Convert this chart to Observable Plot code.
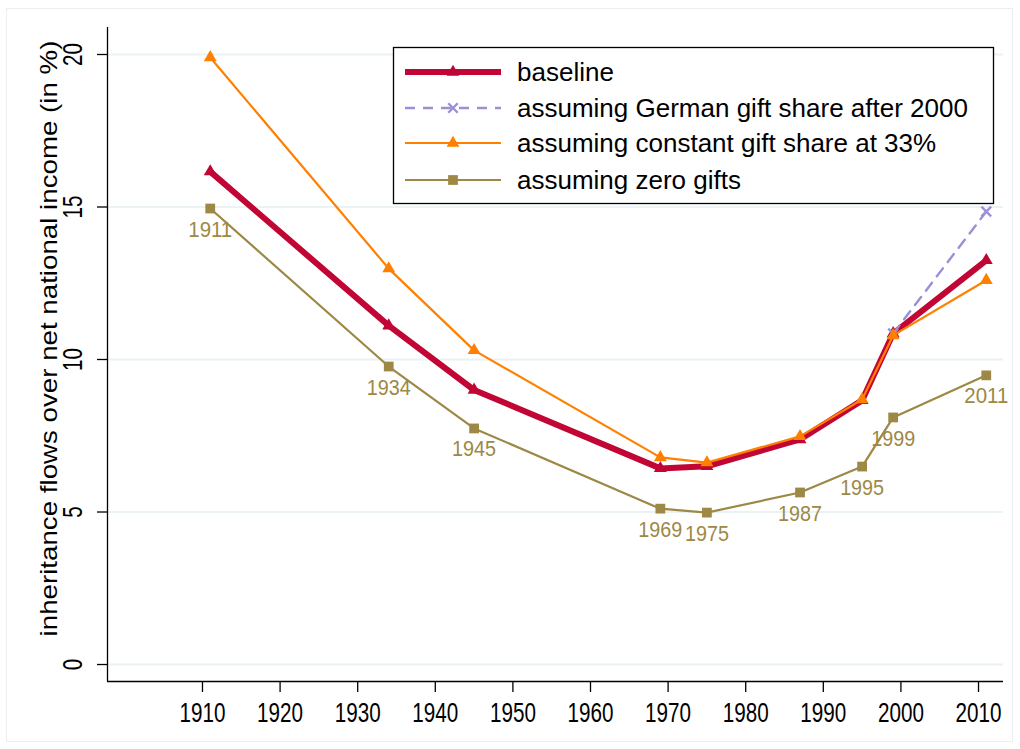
<!DOCTYPE html>
<html>
<head>
<meta charset="utf-8">
<script src="https://cdn.jsdelivr.net/npm/d3@7"></script>
<script src="https://cdn.jsdelivr.net/npm/@observablehq/plot@0.6"></script>
<style>
  html, body { margin: 0; padding: 0; background: #fff; }
  #chart { position: relative; width: 1020px; height: 749px; }
  svg { font-family: "Liberation Sans", Arial, Helvetica, sans-serif; }
</style>
</head>
<body>
<div id="chart"></div>
<script>
// ---- data ----
const years = [1911, 1934, 1945, 1969, 1975, 1987, 1995, 1999, 2011];
const baseline = [16.16, 11.11, 9.0, 6.43, 6.5, 7.38, 8.66, 10.85, 13.25];
const constantGift = [19.9, 12.98, 10.3, 6.79, 6.62, 7.48, 8.69, 10.79, 12.6];
const zeroGifts = [14.95, 9.77, 7.74, 5.11, 4.98, 5.64, 6.49, 8.1, 9.48];
const germanYears = [1999, 2011];
const germanGift = [10.85, 14.85];

const xTicks = [1910, 1920, 1930, 1940, 1950, 1960, 1970, 1980, 1990, 2000, 2010];
const yTicks = [0, 5, 10, 15, 20];
const xDomain = [1897.76, 2013.22];
const yDomain = [-0.557, 20.885];

const yTitle = "inheritance flows over net national income (in %)";
const seriesNames = [
  "baseline",
  "assuming German gift share after 2000",
  "assuming constant gift share at 33%",
  "assuming zero gifts"
];
const colors = {
  baseline: "#c10534",
  german: "#9b8fd8",
  constant: "#ff8000",
  zero: "#9d8845"
};

const toRows = (xs, ys) => xs.map((x, i) => ({x, y: ys[i]}));
const baseRows = toRows(years, baseline);
const constRows = toRows(years, constantGift);
const zeroRows = toRows(years, zeroGifts);
const germRows = toRows(germanYears, germanGift);

const plot = Plot.plot({
  width: 1020,
  height: 749,
  marginLeft: 107,
  marginRight: 17,
  marginTop: 27,
  marginBottom: 68,
  style: {background: "transparent", fontFamily: "Liberation Sans, Arial, sans-serif"},
  x: {domain: xDomain},
  y: {domain: yDomain},
  marks: [
    Plot.ruleY(yTicks, {stroke: "#eaf2f3", strokeWidth: 2}),
    Plot.ruleY([yDomain[0]], {stroke: "#000", strokeWidth: 1.3}),
    Plot.ruleX([xDomain[0]], {stroke: "#000", strokeWidth: 1.3}),
    Plot.axisX({ticks: xTicks, tickSize: 11, tickFormat: () => "", stroke: "#000", strokeWidth: 1.3, label: null}),
    Plot.axisY({ticks: yTicks, tickSize: 10, tickFormat: () => "", stroke: "#000", strokeWidth: 1.3, label: null}),
    // text marks (order matters for post-processing below)
    Plot.text(xTicks, {x: d => d, text: d => String(d), frameAnchor: "bottom", dy: 32, fontSize: 27, textAnchor: "middle", lineAnchor: "middle", fill: "#000"}),
    Plot.text(yTicks, {y: d => d, text: d => String(d), frameAnchor: "left", dx: -34, rotate: -90, fontSize: 27, textAnchor: "middle", lineAnchor: "middle", fill: "#000"}),
    Plot.text([yTitle], {text: d => d, frameAnchor: "left", dx: -58, dy: -16, rotate: -90, fontSize: 23, textAnchor: "middle", lineAnchor: "middle", fill: "#000"}),
    // zero gifts
    Plot.line(zeroRows, {x: "x", y: "y", stroke: colors.zero, strokeWidth: 2.2}),
    Plot.dot(zeroRows, {x: "x", y: "y", symbol: "square", r: 5.5, fill: colors.zero, stroke: "none"}),
    Plot.text(zeroRows, {x: "x", y: "y", text: d => String(d.x), dy: 21, fontSize: 22, fill: colors.zero}),
    // baseline
    Plot.line(baseRows, {x: "x", y: "y", stroke: colors.baseline, strokeWidth: 6}),
    Plot.dot(baseRows, {x: "x", y: "y", symbol: "triangle", r: 4.8, fill: colors.baseline, stroke: "none"}),
    // german
    Plot.line(germRows, {x: "x", y: "y", stroke: colors.german, strokeWidth: 2.4, strokeDasharray: "10,8"}),
    Plot.dot(germRows, {x: "x", y: "y", symbol: "times", r: 4.5, stroke: colors.german, strokeWidth: 2.4}),
    // constant
    Plot.line(constRows, {x: "x", y: "y", stroke: colors.constant, strokeWidth: 2.2}),
    Plot.dot(constRows, {x: "x", y: "y", symbol: "triangle", r: 4.8, fill: colors.constant, stroke: "none"})
  ]
});

document.getElementById("chart").appendChild(plot);

const svg = d3.select(plot);

// Stata-like condensed/stretched text: scale each text along its baseline to a target length
const textGroups = svg.selectAll('g[aria-label="text"]').nodes();
function fit(group, targetFn) {
  if (!group) return;
  d3.select(group).selectAll("text").each(function() {
    const len = this.getComputedTextLength();
    if (!len) return;
    const s = targetFn(this) / len;
    const t = this.getAttribute("transform") || "";
    this.setAttribute("transform", `${t} scale(${s},1)`);
  });
}
fit(textGroups[0], () => 46);
fit(textGroups[1], el => 11.5 * el.textContent.length);
fit(textGroups[2], () => 596);
fit(textGroups[3], () => 44);

// ---- outer border & legend ----
svg.insert("rect", ":first-child")
  .attr("x", 6.5).attr("y", 8.5).attr("width", 1006).attr("height", 733)
  .attr("fill", "none").attr("stroke", "#eeeeee");

const lg = svg.append("g").attr("font-family", "Liberation Sans, Arial, sans-serif").attr("text-anchor", "start");
lg.append("rect").attr("x", 393.5).attr("y", 47.5).attr("width", 600).attr("height", 156)
  .attr("fill", "#fff").attr("stroke", "#000").attr("stroke-width", 1.3);
const legendItems = [
  {name: seriesNames[0], color: colors.baseline, w: 6, dash: null, sym: d3.symbolTriangle, fill: true, size: 70},
  {name: seriesNames[1], color: colors.german, w: 2.4, dash: "10,8", sym: d3.symbolTimes, fill: false, size: 60},
  {name: seriesNames[2], color: colors.constant, w: 2.2, dash: null, sym: d3.symbolTriangle, fill: true, size: 70},
  {name: seriesNames[3], color: colors.zero, w: 2.2, dash: null, sym: d3.symbolSquare, fill: true, size: 95}
];
const rowY = [72, 108, 143, 180];
legendItems.forEach((it, i) => {
  const y = rowY[i];
  lg.append("line").attr("x1", 405).attr("x2", 501).attr("y1", y).attr("y2", y)
    .attr("stroke", it.color).attr("stroke-width", it.w)
    .attr("stroke-dasharray", it.dash);
  lg.append("path").attr("d", d3.symbol(it.sym, it.size)())
    .attr("transform", `translate(453,${y})`)
    .attr("fill", it.fill ? it.color : "none")
    .attr("stroke", it.fill ? "none" : it.color).attr("stroke-width", 2.4);
  lg.append("text").attr("x", 517).attr("y", y).attr("dy", "0.35em")
    .attr("font-size", 26).attr("fill", "#000").text(it.name);
});
</script>
</body>
</html>
